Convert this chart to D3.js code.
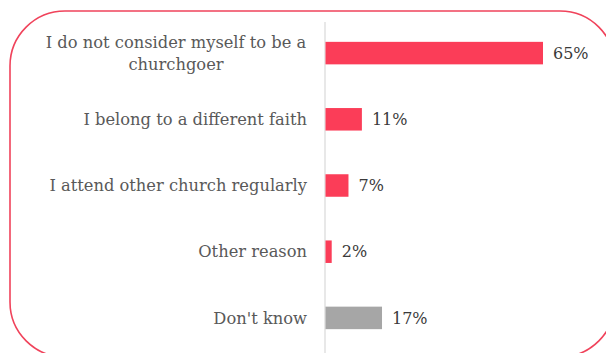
<!DOCTYPE html>
<html><head><meta charset="utf-8">
<script src="https://cdn.jsdelivr.net/npm/d3@7"></script>
<style>html,body{margin:0;padding:0;background:#fff;}</style>
</head><body>
<svg id="c" width="606" height="353"></svg>
<script>
const categories = [
  ["I do not consider myself to be a", "churchgoer"],
  ["I belong to a different faith"],
  ["I attend other church regularly"],
  ["Other reason"],
  ["Don't know"]
];
const values = [65, 11, 7, 2, 17];
const valueLabels = ["65%", "11%", "7%", "2%", "17%"];
const barColors = ["#fb3d58", "#fb3d58", "#fb3d58", "#fb3d58", "#a6a6a6"];

const svg = d3.select("#c");
const font = "DejaVu Serif, Georgia, serif";

// rounded frame
svg.append("rect").attr("x", 10).attr("y", 11).attr("width", 605).attr("height", 346)
  .attr("rx", 55).attr("ry", 55).attr("fill", "none")
  .attr("stroke", "#f0435b").attr("stroke-width", 1.6);

const idx = d3.range(values.length);
const y = d3.scaleBand().domain(idx).range([20, 351]).paddingInner(0.66).paddingOuter(0.33);
const x = d3.scaleLinear().domain([0, 65]).range([325, 543]);

// axis line
svg.append("line").attr("x1", x(0)).attr("x2", x(0)).attr("y1", 22).attr("y2", 353)
  .attr("stroke", "#d9d9d9").attr("stroke-width", 1.2);

svg.selectAll("rect.bar").data(idx).enter().append("rect").attr("class", "bar")
  .attr("x", x(0) + 0.5).attr("y", i => y(i))
  .attr("width", i => x(values[i]) - x(0) - 0.5).attr("height", y.bandwidth())
  .attr("fill", i => barColors[i]);

svg.selectAll("text.val").data(idx).enter().append("text").attr("class", "val")
  .attr("x", i => x(values[i]) + 10).attr("y", i => y(i) + y.bandwidth() / 2)
  .attr("dy", "0.35em").attr("font-family", font).attr("font-size", 16)
  .attr("fill", "#3a3a3a").text(i => valueLabels[i]);

const lab = svg.selectAll("text.lab").data(idx).enter().append("text").attr("class", "lab")
  .attr("font-family", font).attr("font-size", 16.3)
  .attr("fill", "#595959");
lab.each(function(i) {
  const lines = categories[i];
  const cy = y(i) + y.bandwidth() / 2;
  const lh = 22;
  lines.forEach((t, k) => {
    d3.select(this).append("tspan")
      .attr("x", lines.length > 1 ? 176 : 307)
      .attr("y", cy + (k - (lines.length - 1) / 2) * lh)
      .attr("dy", "0.35em").attr("text-anchor", lines.length > 1 ? "middle" : "end")
      .text(t);
  });
});
</script>
</body></html>
